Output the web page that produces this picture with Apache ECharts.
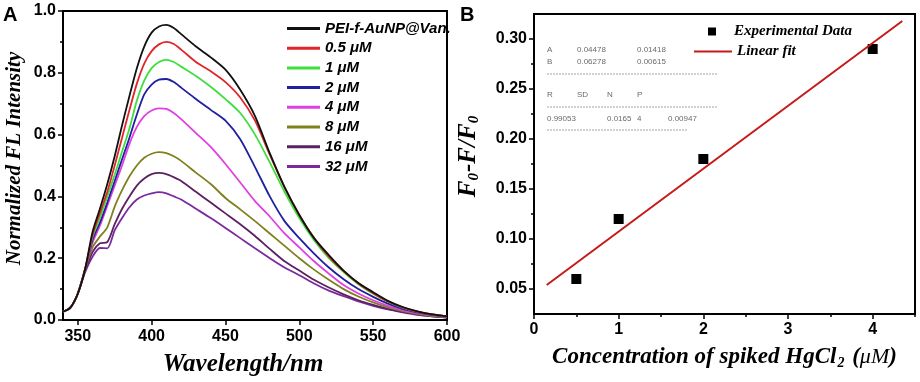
<!DOCTYPE html>
<html>
<head>
<meta charset="utf-8">
<script src="https://cdn.jsdelivr.net/npm/echarts@6/dist/echarts.min.js"></script>
<style>
  html, body { margin: 0; padding: 0; background: #fff; }
  #chart { width: 920px; height: 382px; }
</style>
</head>
<body>
<div id="chart"></div>
<script>
// panel A: normalized FL spectra
const wavelengths = [340, 345, 350, 355, 360, 365, 370, 375, 380, 385, 390, 395, 400, 405, 410, 415, 420, 430, 440, 450, 460, 470, 480, 490, 500, 510, 520, 530, 540, 550, 560, 570, 580, 590, 600];
const vanOnly = [0.027, 0.04, 0.085, 0.165, 0.285, 0.36, 0.44, 0.53, 0.63, 0.725, 0.815, 0.885, 0.93, 0.95, 0.955, 0.945, 0.925, 0.885, 0.85, 0.81, 0.745, 0.66, 0.54, 0.43, 0.34, 0.265, 0.21, 0.16, 0.12, 0.09, 0.062, 0.042, 0.028, 0.018, 0.012];
const hg05 = [0.027, 0.04, 0.085, 0.165, 0.275, 0.345, 0.415, 0.5, 0.59, 0.68, 0.765, 0.83, 0.87, 0.892, 0.9, 0.893, 0.875, 0.835, 0.805, 0.77, 0.72, 0.645, 0.535, 0.43, 0.34, 0.265, 0.205, 0.158, 0.118, 0.087, 0.06, 0.041, 0.027, 0.018, 0.012];
const hg1 = [0.027, 0.04, 0.085, 0.165, 0.27, 0.33, 0.4, 0.47, 0.545, 0.62, 0.71, 0.775, 0.815, 0.835, 0.842, 0.835, 0.82, 0.79, 0.755, 0.715, 0.67, 0.6, 0.51, 0.415, 0.33, 0.258, 0.2, 0.155, 0.116, 0.085, 0.059, 0.04, 0.027, 0.018, 0.012];
const hg2 = [0.027, 0.04, 0.085, 0.165, 0.26, 0.315, 0.38, 0.45, 0.52, 0.59, 0.665, 0.73, 0.762, 0.778, 0.78, 0.77, 0.752, 0.715, 0.68, 0.645, 0.585, 0.495, 0.4, 0.32, 0.265, 0.215, 0.17, 0.132, 0.1, 0.075, 0.053, 0.036, 0.025, 0.017, 0.011];
const hg4 = [0.027, 0.04, 0.085, 0.165, 0.25, 0.305, 0.37, 0.435, 0.5, 0.57, 0.625, 0.66, 0.678, 0.685, 0.683, 0.67, 0.65, 0.605, 0.56, 0.505, 0.445, 0.385, 0.335, 0.28, 0.235, 0.19, 0.15, 0.113, 0.086, 0.064, 0.046, 0.032, 0.022, 0.015, 0.01];
const hg8 = [0.027, 0.04, 0.085, 0.165, 0.235, 0.27, 0.3, 0.367, 0.42, 0.465, 0.5, 0.525, 0.538, 0.543, 0.54, 0.53, 0.515, 0.477, 0.44, 0.395, 0.358, 0.32, 0.28, 0.24, 0.2, 0.163, 0.13, 0.1, 0.076, 0.057, 0.041, 0.029, 0.02, 0.013, 0.009];
const hg16 = [0.027, 0.04, 0.085, 0.16, 0.22, 0.248, 0.252, 0.31, 0.36, 0.4, 0.435, 0.458, 0.472, 0.476, 0.472, 0.462, 0.45, 0.415, 0.38, 0.345, 0.31, 0.272, 0.23, 0.19, 0.16, 0.13, 0.105, 0.083, 0.064, 0.049, 0.036, 0.026, 0.018, 0.012, 0.008];
const hg32 = [0.027, 0.04, 0.085, 0.155, 0.205, 0.233, 0.232, 0.29, 0.33, 0.365, 0.39, 0.403, 0.41, 0.414, 0.41, 0.4, 0.39, 0.36, 0.33, 0.298, 0.265, 0.232, 0.2, 0.17, 0.145, 0.118, 0.095, 0.077, 0.06, 0.046, 0.034, 0.025, 0.017, 0.012, 0.008];

const spectraNames = ['PEI-f-AuNP@Van.', '0.5 μM', '1 μM', '2 μM', '4 μM', '8 μM', '16 μM', '32 μM'];
const spectraValues = [vanOnly, hg05, hg1, hg2, hg4, hg8, hg16, hg32];
const spectraColors = ['#111111', '#e0262a', '#3ddf3d', '#1f1fa0', '#e040e0', '#80801f', '#5b2160', '#7b2a9e'];

const wlTicks = [350, 400, 450, 500, 550, 600];

// panel B: calibration
const hgConc = [0.5, 1, 2, 4];
const quenchRatio = [0.06, 0.12, 0.18, 0.29];
const fitConc = [0.15, 4.35];
const fitRatio = [0.054, 0.318];
const concTicks = [0, 1, 2, 3, 4];
const concMinor = [0.5, 1.5, 2.5, 3.5, 4.5];
const ratioTicks = [0.05, 0.10, 0.15, 0.20, 0.25, 0.30];
const ratioMinor = [0.075, 0.125, 0.175, 0.225, 0.275];

const fitParams = [['A', '0.04478', '0.01418'], ['B', '0.06278', '0.00615']];
const fitStatsHead = ['R', 'SD', 'N', 'P'];
const fitStatsRow = ['0.99053', '0.0165', '4', '0.00947'];

const SANS = '"Liberation Sans", Arial, sans-serif';
const SERIF = '"Liberation Serif", "Times New Roman", serif';

const chart = echarts.init(document.getElementById('chart'));

const tickLabel = { color: '#000', fontFamily: SANS, fontWeight: 'bold', fontSize: 16 };
const blackLine = { lineStyle: { color: '#000', width: 2 } };

// stats box graphic (grey Origin-style table)
const statsText = (txt, x, y) => ({
  type: 'text', left: x, top: y,
  style: { text: txt, fill: '#6a6a6a', font: '8px ' + SANS }
});
const dashLine = (x1, x2, y) => ({
  type: 'line',
  shape: { x1: x1, y1: y, x2: x2, y2: y },
  style: { stroke: '#8a8a8a', lineWidth: 0.8, lineDash: [2, 1] }
});
const statsCols = [547, 577, 607, 637];
const statsGraphic = [];
fitParams.forEach((row, i) => {
  statsGraphic.push(statsText(row[0], statsCols[0], 46 + i * 12));
  statsGraphic.push(statsText(row[1], statsCols[1], 46 + i * 12));
  statsGraphic.push(statsText(row[2], statsCols[3], 46 + i * 12));
});
statsGraphic.push(dashLine(547, 717, 74));
fitStatsHead.forEach((h, i) => statsGraphic.push(statsText(h, statsCols[i], 91)));
statsGraphic.push(dashLine(547, 717, 107));
statsGraphic.push(statsText(fitStatsRow[0], 547, 115));
statsGraphic.push(statsText(fitStatsRow[1], 607, 115));
statsGraphic.push(statsText(fitStatsRow[2], 637, 115));
statsGraphic.push(statsText(fitStatsRow[3], 668, 115));
statsGraphic.push(dashLine(547, 687, 130));

const option = {
  animation: false,
  backgroundColor: '#fff',
  grid: [
    { left: 63, top: 11, right: 473, bottom: 62, show: true, borderColor: '#000', borderWidth: 2 },
    { left: 534, top: 14, right: 5, bottom: 68, show: true, borderColor: '#000', borderWidth: 2 }
  ],
  legend: [
    {
      data: spectraNames, orient: 'vertical', left: 282, top: 16,
      icon: 'rect', itemWidth: 33, itemHeight: 3, itemGap: 4.7,
      textStyle: { color: '#000', fontFamily: SANS, fontWeight: 'bold', fontStyle: 'italic', fontSize: 15 }
    },
    {
      data: ['Experimental Data'], left: 703, top: 19,
      icon: 'rect', itemWidth: 8, itemHeight: 8,
      textStyle: { color: '#000', fontFamily: SERIF, fontWeight: 'bold', fontStyle: 'italic', fontSize: 15, padding: [0, 0, 0, 13] }
    },
    {
      data: ['Linear fit'], left: 689, top: 39,
      icon: 'rect', itemWidth: 38, itemHeight: 2,
      textStyle: { color: '#000', fontFamily: SERIF, fontWeight: 'bold', fontStyle: 'italic', fontSize: 15 }
    }
  ],
  xAxis: [
    {
      gridIndex: 0, type: 'value', min: 340, max: 600, position: 'bottom',
      axisLine: blackLine,
      axisTick: { customValues: wlTicks, length: 5, lineStyle: { color: '#000', width: 1.5 } },
      axisLabel: Object.assign({ customValues: wlTicks, margin: 9 }, tickLabel),
      splitLine: { show: false },
      name: 'Wavelength/nm', nameLocation: 'middle', nameGap: 32,
      nameTextStyle: { color: '#000', fontFamily: SERIF, fontWeight: 'bold', fontStyle: 'italic', fontSize: 25, padding: [0, 24, 0, 0] }
    },
    {
      gridIndex: 1, type: 'value', min: 0, max: 4.5, position: 'bottom',
      axisLine: blackLine,
      axisTick: { customValues: concTicks, length: 5, lineStyle: { color: '#000', width: 1.5 } },
      axisLabel: Object.assign({ customValues: concTicks, margin: 8 }, tickLabel),
      splitLine: { show: false },
      name: '{t|Concentration of spiked HgCl}{s|2}{t| (}{u|μM}{t|)}',
      nameLocation: 'middle', nameGap: 30,
      nameTextStyle: {
        rich: {
          t: { color: '#000', fontFamily: SERIF, fontWeight: 'bold', fontStyle: 'italic', fontSize: 23 },
          s: { color: '#000', fontFamily: SERIF, fontWeight: 'bold', fontStyle: 'italic', fontSize: 14, padding: [12, 2, 0, 1] },
          u: { color: '#000', fontFamily: SERIF, fontStyle: 'italic', fontSize: 22 }
        }
      }
    },
    {
      gridIndex: 1, type: 'value', min: 0, max: 4.5, position: 'bottom',
      axisLine: { show: false },
      axisTick: { customValues: concMinor, length: 3, lineStyle: { color: '#000', width: 1.5 } },
      axisLabel: { show: false },
      splitLine: { show: false }
    }
  ],
  yAxis: [
    {
      gridIndex: 0, type: 'value', min: 0, max: 1, interval: 0.2, position: 'left',
      axisLine: blackLine,
      axisTick: { length: 5, lineStyle: { color: '#000', width: 1.5 } },
      minorTick: { show: true, splitNumber: 2, length: 3, lineStyle: { color: '#000', width: 1.5 } },
      axisLabel: Object.assign({ margin: 7, formatter: (v) => v.toFixed(1) }, tickLabel),
      splitLine: { show: false },
      name: 'Normalized FL Intensity', nameLocation: 'middle', nameGap: 38, nameRotate: 90,
      nameTextStyle: { color: '#000', fontFamily: SERIF, fontWeight: 'bold', fontStyle: 'italic', fontSize: 21, padding: [0, 0, 0, 14] }
    },
    {
      gridIndex: 1, type: 'value', min: 0.025, max: 0.325, position: 'left',
      axisLine: blackLine,
      axisTick: { customValues: ratioTicks, length: 5, lineStyle: { color: '#000', width: 1.5 } },
      axisLabel: Object.assign({ customValues: ratioTicks, margin: 7, formatter: (v) => v.toFixed(2) }, tickLabel),
      splitLine: { show: false },
      name: '{f|F}{s|0}{f|-F/F}{s|0}', nameLocation: 'middle', nameGap: 52, nameRotate: 90,
      nameTextStyle: {
        padding: [0, 0, 0, 16],
        rich: {
          f: { color: '#000', fontFamily: SERIF, fontWeight: 'bold', fontStyle: 'italic', fontSize: 25 },
          s: { color: '#000', fontFamily: SERIF, fontWeight: 'bold', fontStyle: 'italic', fontSize: 15, padding: [12, 1, 0, 0] }
        }
      }
    },
    {
      gridIndex: 1, type: 'value', min: 0.025, max: 0.325, position: 'left',
      axisLine: { show: false },
      axisTick: { customValues: ratioMinor, length: 3, lineStyle: { color: '#000', width: 1.5 } },
      axisLabel: { show: false },
      splitLine: { show: false }
    }
  ],
  graphic: [
    { type: 'text', left: 3, top: 5, style: { text: 'A', fill: '#000', font: 'bold 20px ' + SANS } },
    { type: 'text', left: 460, top: 5, style: { text: 'B', fill: '#000', font: 'bold 20px ' + SANS } }
  ].concat(statsGraphic),
  series: spectraNames.map((name, i) => ({
    name: name,
    type: 'line',
    xAxisIndex: 0, yAxisIndex: 0,
    data: wavelengths.map((w, j) => [w, spectraValues[i][j]]),
    symbol: 'none', smooth: 0.25,
    color: spectraColors[i],
    lineStyle: { width: 1.8, color: spectraColors[i] },
    z: 10 - i
  })).concat([
    {
      name: 'Experimental Data', type: 'scatter',
      xAxisIndex: 1, yAxisIndex: 1,
      data: hgConc.map((c, i) => [c, quenchRatio[i]]),
      symbol: 'rect', symbolSize: 10,
      itemStyle: { color: '#000', opacity: 1 }, z: 5
    },
    {
      name: 'Linear fit', type: 'line',
      xAxisIndex: 1, yAxisIndex: 1,
      data: fitConc.map((c, i) => [c, fitRatio[i]]),
      symbol: 'none', color: '#c41a1a',
      lineStyle: { width: 2, color: '#c41a1a' }, z: 6
    }
  ])
};

chart.setOption(option);
</script>
</body>
</html>
